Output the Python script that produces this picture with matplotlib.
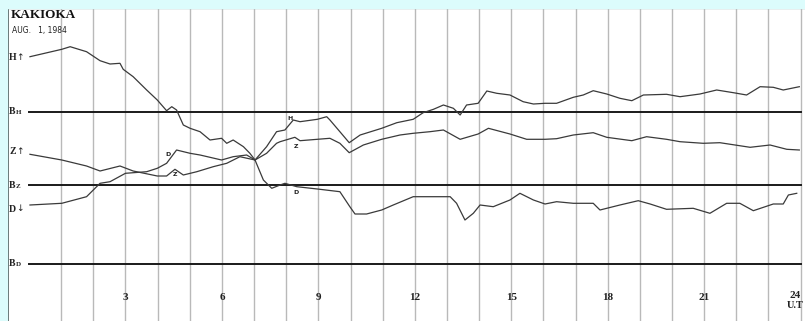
import matplotlib
matplotlib.use("Agg")
import matplotlib.pyplot as plt
from matplotlib.patches import Rectangle

# hour ticks along the bottom of the record
hour_labels = [3, 6, 9, 12, 15, 18, 21, 24]
grid_hours = list(range(1, 25))

# traces: hour of day and row on the record
h_hours = [0.03, 1.02, 1.28, 1.79, 2.21, 2.52, 2.83, 2.93, 3.24, 3.66, 3.99, 4.28, 4.44,
           4.59, 4.80, 5.01, 5.32, 5.63, 5.99, 6.15, 6.35, 6.67, 6.87, 7.03, 7.39, 7.70,
           7.96, 8.22, 8.43, 8.97, 9.26, 9.36, 9.67, 9.96, 10.30, 10.97, 11.44, 11.95,
           12.26, 12.58, 12.89, 13.20, 13.41, 13.61, 13.97, 14.24, 14.55, 14.96, 15.37,
           15.69, 16.05, 16.41, 16.93, 17.24, 17.55, 17.97, 18.38, 18.75, 19.11, 19.83,
           20.25, 20.87, 21.39, 21.91, 22.32, 22.74, 23.15, 23.46, 23.96]
h_rows = [56.7, 49.3, 46.7, 51.7, 60.7, 64.0, 63.3, 69.3, 76.7, 90.0, 100.0, 110.7, 106.7,
          110.0, 125.0, 128.3, 131.7, 140.0, 138.3, 143.3, 140.0, 146.7, 153.3, 160.0, 146.7,
          131.7, 130.0, 120.0, 121.7, 119.3, 116.7, 120.0, 131.7, 142.7, 135.0, 128.3, 122.7,
          119.3, 112.7, 109.3, 105.0, 108.3, 115.0, 105.0, 103.3, 91.0, 93.3, 95.0, 101.7,
          104.0, 103.3, 103.3, 97.3, 95.0, 90.7, 94.0, 98.3, 100.7, 95.0, 94.3,
          96.7, 94.0, 90.0, 92.7, 95.0, 86.7, 87.3, 90.0, 86.7]

z_hours = [0.03, 1.02, 1.79, 2.21, 2.83, 3.24, 3.99, 4.28, 4.54, 4.80, 5.22, 5.73, 6.15,
           6.56, 7.03, 7.39, 7.70, 7.81, 8.27, 8.43, 8.97, 9.36, 9.67, 9.96, 10.40, 10.97,
           11.54, 11.95, 12.47, 12.89, 13.41, 13.97, 14.29, 14.96, 15.48, 16.05, 16.41,
           16.93, 17.55, 17.97, 18.75, 19.21, 19.83, 20.25, 20.97, 21.49, 22.43, 23.05,
           23.57, 23.96]
z_rows = [154.3, 160.0, 166.0, 171.0, 166.0, 171.0, 176.0, 176.0, 169.3, 175.0, 171.7, 166.7,
          163.3, 156.7, 160.0, 153.3, 143.3, 141.7, 137.3, 140.7, 139.3, 138.3, 143.3, 152.7,
          145.0, 139.3, 135.0, 133.3, 131.7, 130.0, 139.3, 134.0, 128.3, 134.0, 139.3, 139.3,
          138.7, 135.0, 132.7, 137.3, 140.7, 136.7, 139.3, 141.7, 143.3, 142.7, 147.3, 145.0,
          149.3, 150.0]

d_hours = [0.03, 1.02, 1.79, 2.21, 2.52, 3.00, 3.66, 3.99, 4.28, 4.59, 5.01, 5.32, 5.99,
           6.35, 6.77, 7.03, 7.29, 7.55, 7.81, 7.96, 8.33, 8.97, 9.67, 9.98, 10.14, 10.50,
           10.97, 11.33, 11.95, 12.47, 13.10, 13.30, 13.56, 13.82, 14.03, 14.44, 14.96,
           15.27, 15.69, 16.05, 16.41, 16.93, 17.55, 17.76, 18.38, 18.95, 19.32, 19.83,
           20.66, 21.18, 21.70, 22.11, 22.53, 23.15, 23.46, 23.62, 23.88]
d_rows = [205.0, 203.3, 196.7, 183.3, 181.7, 173.3, 171.7, 168.3, 163.3, 150.0, 153.3, 155.0,
          160.0, 156.7, 155.0, 160.0, 180.0, 188.3, 185.0, 183.3, 186.7, 189.0, 191.7, 206.7,
          214.0, 214.0, 210.0, 205.0, 196.7, 196.7, 196.7, 203.3, 220.0, 213.3, 205.0, 206.7,
          200.0, 193.3, 200.0, 204.0, 201.7, 203.3, 203.3, 210.0, 205.0, 200.7, 204.0, 209.3,
          208.3, 213.3, 203.3, 203.3, 210.7, 204.0, 204.0, 195.0, 193.3]

BH, BZ, BD = 112, 185, 264
PX = 32.15   # pixels per hour on the record
X0 = 29      # pixel of hour 0

fig = plt.figure(figsize=(8.05, 3.21), dpi=100)
ax = fig.add_axes([0, 0, 1, 1])
ax.set_xlim(-X0 / PX, (805 - X0) / PX)
ax.set_ylim(321, 0)
ax.axis('off')

# scanned frame: cyan margin with a dark edge
fig.patches.append(Rectangle((0, 1 - 8 / 321), 1, 8 / 321, transform=fig.transFigure,
                             color='#dcfcfc', zorder=0))
fig.patches.append(Rectangle((0, 0), 7 / 805, 1, transform=fig.transFigure,
                             color='#dcfcfc', zorder=0))
ax.axhline(8, color='#4e5b5b', lw=1.6, zorder=5)
ax.axvline((7.5 - X0) / PX, ymin=0, ymax=1 - 8 / 321, color='#4e5b5b', lw=1.4, zorder=5)

serif = ['Liberation Serif', 'DejaVu Serif']

# hour grid
for h in grid_hours:
    ax.plot([h, h], [8, 321], color='#b9b9b9', lw=1.0, zorder=1)

# baselines
for b in (BH, BZ, BD):
    ax.plot([0, 24], [b, b], color='#1a1a1a', lw=1.4, zorder=2)

# traces
for hh, rr in ((h_hours, h_rows), (z_hours, z_rows), (d_hours, d_rows)):
    ax.plot(hh, rr, color='#3a3a3a', lw=0.9, zorder=3)


def left_label(row, main, sub=None, arrow=None):
    xl = (9 - X0) / PX
    ax.text(xl, row, main, family=serif, fontsize=7, fontweight='bold',
            va='center', ha='left', color='#222222')
    if sub:
        ax.text(xl + 7 / PX, row + 1, sub, family=serif, fontsize=5, fontweight='bold',
                va='center', ha='left', color='#222222')
    if arrow:
        ax.text(xl + 7.5 / PX, row - 0.5, arrow, family='DejaVu Sans', fontsize=6.5,
                va='center', ha='left', color='#222222')


left_label(58, 'H', arrow='↑')
left_label(BH, 'B', sub='H')
left_label(152, 'Z', arrow='↑')
left_label(BZ, 'B', sub='Z')
left_label(209, 'D', arrow='↓')
left_label(BD, 'B', sub='D')

# trace names on the record
for hx, row, s in ((8.12, 119, 'H'), (8.31, 146, 'Z'), (8.31, 192, 'D'),
                   (4.32, 154, 'D'), (4.54, 175, 'Z')):
    ax.text(hx, row, s, family='DejaVu Sans', fontsize=4.5, fontweight='bold',
            ha='center', va='center', color='#222222')

# header
ax.text((11 - X0) / PX, 15, 'KAKIOKA', family=serif, fontsize=9.5, fontweight='bold',
        va='center', ha='left', color='#111111')
ax.text((12 - X0) / PX, 30, 'AUG.   1, 1984', family='DejaVu Sans',
        fontsize=5.5, va='center', ha='left', color='#222222')

# hour numbers
for h in hour_labels:
    ax.text(h, 297 if h < 24 else 295, str(h), family=serif, fontsize=8, fontweight='bold',
            ha='center' if h < 24 else 'right', va='center', color='#222222')
ax.text((804 - X0) / PX, 306, 'U.T', family=serif, fontsize=7.5, fontweight='bold',
        ha='right', va='center', color='#222222')

fig.savefig('out.png', dpi=100, facecolor='white')
